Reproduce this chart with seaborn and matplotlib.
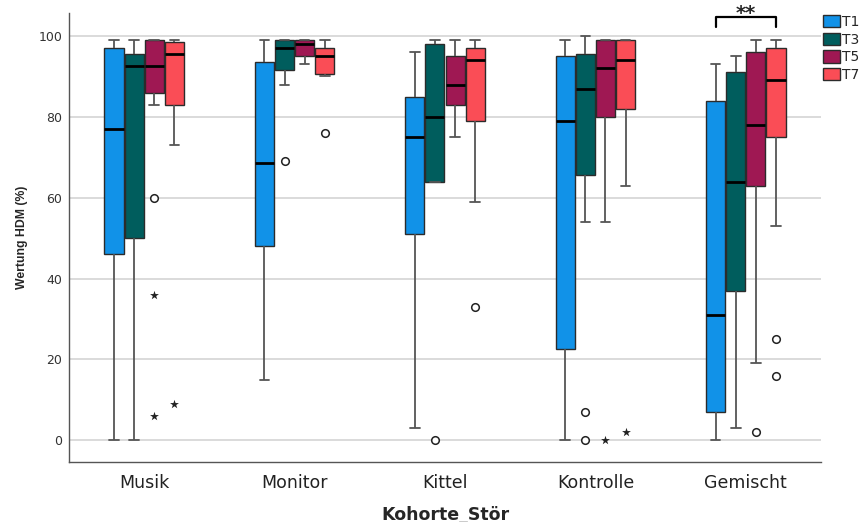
import matplotlib
matplotlib.use("Agg")
import matplotlib.pyplot as plt
import pandas as pd
import seaborn as sns

# Cohorts on the x axis and measurement times (hue)
cohorts = ["Musik", "Monitor", "Kittel", "Kontrolle", "Gemischt"]
times = ["T1", "T3", "T5", "T7"]
time_colors = ["#1192e8", "#005d5d", "#9f1853", "#fa4d56"]

# Five-number summaries per cohort: lower whisker, Q1, median, Q3, upper whisker
t1_summary = [[0, 46, 77, 97, 99], [15, 48, 68.5, 93.5, 99], [3, 51, 75, 85, 96],
              [0, 22.5, 79, 95, 99], [0, 7, 31, 84, 93]]
t3_summary = [[0, 50, 92.5, 95.5, 99], [88, 91.5, 97, 99, 99], [64, 64, 80, 98, 99],
              [54, 65.5, 87, 95.5, 100], [3, 37, 64, 91, 95]]
t5_summary = [[83, 86, 92.5, 99, 99], [93, 95, 98, 99, 99], [75, 83, 88, 95, 99],
              [54, 80, 92, 99, 99], [19, 63, 78, 96, 99]]
t7_summary = [[73, 83, 95.5, 98.5, 99], [90, 90.5, 95, 97, 99], [59, 79, 94, 97, 99],
              [63, 82, 94, 99, 99], [53, 75, 89, 97, 99]]

# Outliers (circles) and extreme values (stars)
outlier_cohort = ["Musik", "Monitor", "Monitor", "Kittel", "Kittel", "Kontrolle",
                  "Kontrolle", "Gemischt", "Gemischt", "Gemischt"]
outlier_time = ["T5", "T3", "T7", "T3", "T7", "T3", "T3", "T5", "T7", "T7"]
outlier_value = [60, 69, 76, 0, 33, 7, 0, 2, 25, 16]

extreme_cohort = ["Musik", "Musik", "Musik", "Kontrolle", "Kontrolle"]
extreme_time = ["T5", "T5", "T7", "T5", "T7"]
extreme_value = [36, 6, 9, 0, 2]

rows = []
for t, summary in zip(times, [t1_summary, t3_summary, t5_summary, t7_summary]):
    for c, vals in zip(cohorts, summary):
        for v in vals:
            rows.append((c, t, v))
df = pd.DataFrame(rows, columns=["Kohorte_Stör", "Zeit", "Wertung"])

BOX_WIDTH = 0.535


def box_center(cohort, time):
    """x position of a dodged box, following seaborn's hue dodging."""
    slot = BOX_WIDTH / len(times)
    return cohorts.index(cohort) + slot * (times.index(time) + 0.5) - BOX_WIDTH / 2


sns.set_style("white")
plt.rcParams["font.family"] = ["DejaVu Sans"]

fig = plt.figure(figsize=(8.63, 5.22), dpi=100)
ax = fig.add_axes([69 / 863, 60 / 522, 752 / 863, 449 / 522])

ax.yaxis.grid(True, color="#d4d4d4", linewidth=1.2, zorder=0)
ax.set_axisbelow(True)

sns.boxplot(
    data=df, x="Kohorte_Stör", y="Wertung", hue="Zeit",
    order=cohorts, hue_order=times, palette=time_colors, saturation=1,
    whis=(0, 100), showfliers=False, width=BOX_WIDTH, gap=0.05,
    linewidth=1.0, linecolor="#2b2b2b",
    medianprops=dict(color="black", linewidth=2),
    whiskerprops=dict(color="#555555", linewidth=1.3),
    capprops=dict(color="#555555", linewidth=1.3),
    ax=ax,
)

sns.scatterplot(
    x=[box_center(c, t) for c, t in zip(outlier_cohort, outlier_time)],
    y=outlier_value, marker="o", s=30, color="white",
    edgecolor="#222222", linewidth=1.1, zorder=5, ax=ax,
)
sns.scatterplot(
    x=[box_center(c, t) for c, t in zip(extreme_cohort, extreme_time)],
    y=extreme_value, marker="*", s=45, color="#222222",
    linewidth=0, zorder=5, ax=ax,
)

# Significance bracket between T1 and T7 in the mixed cohort
x1 = box_center("Gemischt", "T1")
x2 = box_center("Gemischt", "T7")
ax.plot([x1, x1, x2, x2], [102.3, 104.6, 104.6, 102.3], color="black",
        linewidth=1.6, clip_on=False, zorder=6)
ax.text((x1 + x2) / 2, 104.3, "**", ha="center", va="baseline",
        fontsize=14, fontweight="bold", clip_on=False)

ax.set_xlim(-0.5, 4.5)
ax.set_ylim(-5.4, 105.7)
ax.set_yticks([0, 20, 40, 60, 80, 100])
ax.set_xticks(range(len(cohorts)), cohorts)
ax.tick_params(axis="x", length=0, pad=9, labelsize=12.5, labelcolor="#222222")
ax.tick_params(axis="y", length=0, pad=5, labelsize=9, labelcolor="#333333")
ax.set_xlabel("")
ax.set_ylabel("")

for side in ["top", "right"]:
    ax.spines[side].set_visible(False)
for side in ["left", "bottom"]:
    ax.spines[side].set_color("#555555")
    ax.spines[side].set_linewidth(1.0)

fig.text(21.7 / 863, 1 - 237.5 / 522, "Wertung HDM (%)", rotation=90,
         ha="center", va="center", fontsize=8.8, fontweight="bold",
         family=["Liberation Sans", "DejaVu Sans"])
fig.text(445 / 863, 2.5 / 522, "Kohorte_Stör", ha="center", va="baseline",
         fontsize=12.5, fontweight="bold")

sns.move_legend(
    ax, "upper left", bbox_to_anchor=(823 / 863, 1 - 15 / 522),
    bbox_transform=fig.transFigure, title=None, frameon=False,
    fontsize=10, handlelength=1.2, handleheight=1.0, labelspacing=0.26,
    handletextpad=0.2, borderpad=0, borderaxespad=0,
)

fig.savefig("out.png", dpi=100)
